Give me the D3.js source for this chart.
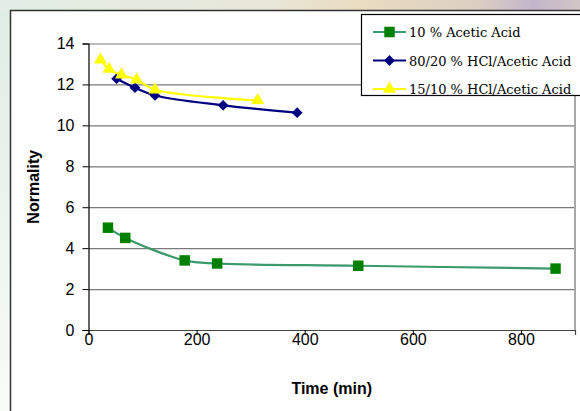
<!DOCTYPE html>
<html>
<head>
<meta charset="utf-8">
<script src="https://cdn.jsdelivr.net/npm/d3@7"></script>
<style>
  body { margin: 0; }
  svg { display: block; }
</style>
</head>
<body>
<div id="chart"></div>
<script>
// data
const seriesNames = ["10 % Acetic Acid", "80/20 % HCl/Acetic Acid", "15/10 % HCl/Acetic Acid"];

const aceticTime = [36, 68, 178, 238, 499, 864];
const aceticNormality = [5.0, 4.5, 3.4, 3.25, 3.14, 3.0];

const hcl8020Time = [52, 86, 123, 249, 386];
const hcl8020Normality = [12.28, 11.84, 11.46, 10.98, 10.62];

const hcl1510Time = [22, 38, 61, 89, 123, 313];
const hcl1510Normality = [13.2, 12.75, 12.47, 12.23, 11.74, 11.22];

const xTicks = [0, 200, 400, 600, 800];
const yTicks = [0, 2, 4, 6, 8, 10, 12, 14];

const W = 580, H = 411;
const margin = {top: 43.5, right: 5, bottom: 81, left: 88.5};
const width = W - margin.left - margin.right;
const height = H - margin.top - margin.bottom;

const svg = d3.select("#chart").append("svg")
    .attr("width", W)
    .attr("height", H);

// slide background behind the chart
const defs = svg.append("defs");
const bgTop = defs.append("linearGradient").attr("id", "bgTop");
[["0%", "#e2ede5"], ["45%", "#e8e8da"], ["62%", "#eadcc0"], ["82%", "#dccfc2"], ["92%", "#c3b6cc"], ["100%", "#d3c6c6"]]
    .forEach(s => bgTop.append("stop").attr("offset", s[0]).attr("stop-color", s[1]));
const bgLeft = defs.append("linearGradient").attr("id", "bgLeft")
    .attr("x1", 0).attr("y1", 0).attr("x2", 0).attr("y2", 1);
[["0%", "#deede3"], ["100%", "#f9fbf9"]]
    .forEach(s => bgLeft.append("stop").attr("offset", s[0]).attr("stop-color", s[1]));

svg.append("rect").attr("width", W).attr("height", H).attr("fill", "url(#bgLeft)");
svg.append("rect").attr("width", W).attr("height", 12).attr("fill", "url(#bgTop)");

// chart area
svg.append("rect")
    .attr("x", 10.5).attr("y", 10.5)
    .attr("width", W).attr("height", H)
    .attr("fill", "#fff")
    .attr("stroke", "#333")
    .attr("stroke-width", 1.5);

const g = svg.append("g")
    .attr("transform", `translate(${margin.left}, ${margin.top})`);

const x = d3.scaleLinear().domain([0, 900]).range([0, width]);
const y = d3.scaleLinear().domain([0, 14]).range([height, 0]);

// gridlines
g.append("g")
    .call(d3.axisLeft(y).tickValues(yTicks).tickSize(-width).tickFormat(""))
    .call(a => a.select(".domain").remove())
    .selectAll("line")
    .attr("stroke", "#7a7a7a")
    .attr("stroke-width", 1.2);

// plot area right border
g.append("line")
    .attr("x1", width).attr("x2", width)
    .attr("y1", 0).attr("y2", height)
    .attr("stroke", "#a8a8a8")
    .attr("stroke-width", 2);

// axes
function styleAxis(a) {
    a.attr("font-family", "Liberation Sans, Arial, sans-serif")
     .attr("font-size", 16);
    a.selectAll(".tick line").attr("stroke", "#000");
    a.selectAll(".tick text").attr("fill", "#000");
}

g.append("g")
    .attr("transform", `translate(0, ${height})`)
    .call(d3.axisBottom(x).tickValues(xTicks).tickSize(5).tickPadding(-1))
    .call(styleAxis)
    .call(a => a.select(".domain").attr("stroke", "#444").attr("stroke-width", 1.2));

g.append("g")
    .call(d3.axisLeft(y).tickValues(yTicks).tickSize(6).tickPadding(8))
    .call(styleAxis)
    .call(a => a.select(".domain").attr("stroke", "#000").attr("stroke-width", 1.2));

// axis titles
g.append("text")
    .attr("x", width / 2)
    .attr("y", height + 64)
    .attr("text-anchor", "middle")
    .attr("font-family", "Liberation Sans, Arial, sans-serif")
    .attr("font-weight", "bold")
    .attr("font-size", "16px")
    .text("Time (min)");

g.append("text")
    .attr("transform", `translate(${-margin.left + 39}, ${y(7)}) rotate(-90)`)
    .attr("text-anchor", "middle")
    .attr("font-family", "Liberation Sans, Arial, sans-serif")
    .attr("font-weight", "bold")
    .attr("font-size", "16px")
    .text("Normality");

// series
const series = [
    {name: seriesNames[0], time: aceticTime, value: aceticNormality, line: "#3a9a6c", marker: "#008000",
     symbol: d3.symbol().type(d3.symbolSquare).size(110), rotate: 0},
    {name: seriesNames[1], time: hcl8020Time, value: hcl8020Normality, line: "#000080", marker: "#000080",
     symbol: d3.symbol().type(d3.symbolSquare).size(58), rotate: 45},
    {name: seriesNames[2], time: hcl1510Time, value: hcl1510Normality, line: "#ffff00", marker: "#ffff00",
     symbol: d3.symbol().type(d3.symbolTriangle).size(72), rotate: 0}
];

const line = d3.line()
    .x(d => x(d[0]))
    .y(d => y(d[1]))
    .curve(d3.curveCatmullRom.alpha(0.5));

series.forEach(s => {
    const pts = s.time.map((t, i) => [t, s.value[i]]);
    g.append("path")
        .datum(pts)
        .attr("fill", "none")
        .attr("stroke", s.line)
        .attr("stroke-width", 2.2)
        .attr("d", line);
    g.selectAll(null)
        .data(pts)
        .enter().append("path")
        .attr("d", s.symbol())
        .attr("transform", d => `translate(${x(d[0])}, ${y(d[1])}) rotate(${s.rotate})`)
        .attr("fill", s.marker);
});

// legend
const legend = svg.append("g").attr("transform", "translate(361, 14)");
legend.append("rect")
    .attr("x", 0.5).attr("y", 0.5)
    .attr("width", 260).attr("height", 81)
    .attr("fill", "#fff")
    .attr("stroke", "#000")
    .attr("stroke-width", 1.2);

series.forEach((s, i) => {
    const row = legend.append("g").attr("transform", `translate(0, ${18 + i * 28.5})`);
    row.append("line")
        .attr("x1", 12).attr("x2", 45)
        .attr("stroke", s.line)
        .attr("stroke-width", 2.2);
    row.append("path")
        .attr("d", s.symbol())
        .attr("transform", `translate(28.5, 0) rotate(${s.rotate})`)
        .attr("fill", s.marker);
    row.append("text")
        .attr("x", 48)
        .attr("y", 5)
        .attr("font-family", "DejaVu Serif, serif")
        .attr("font-size", "13px")
        .text(s.name);
});
</script>
</body>
</html>
